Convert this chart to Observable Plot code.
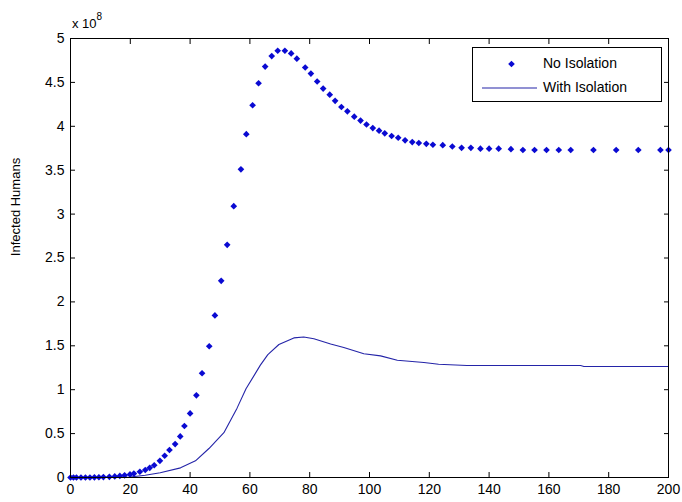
<!DOCTYPE html>
<html>
<head>
<meta charset="utf-8">
<script src="https://cdn.jsdelivr.net/npm/d3@7"></script>
<script src="https://cdn.jsdelivr.net/npm/@observablehq/plot@0.6"></script>
<style>
  html, body { margin: 0; padding: 0; background: white; }
  svg { display: block; }
</style>
</head>
<body>
<div id="chart"></div>
<script>
// Time (days) and infected humans (x 10^8) — No Isolation (diamond markers)
const noIsoT = [0,1,2,3.5,5,6.5,8,9.5,11,13,
  14.8,16.5,18.1,19.9,21.2,23.2,25,26.5,28,29.9,
  31.5,33.1,35,36.7,38.1,40,42.1,44,46.4,48.3,
  50.4,52.4,54.6,57,58.8,60.9,62.9,65.1,67.3,69.3,
  71.7,73.8,75.7,78.5,80.4,82.5,84.5,86.7,88.5,90.6,
  92.6,94.9,97,99,101.1,103.2,105.1,107.4,109.6,111.9,
  114.3,116.5,119,121.2,124.5,127.7,130.8,133.9,137.1,140,
  143.2,147.3,151.3,155.2,159.2,163.3,167.3,174.9,182.5,189.9,
  197.3,200];
const noIsoV = [0,0,0,0,0,0,0.002,0.003,0.005,0.008,
  0.012,0.018,0.025,0.035,0.045,0.065,0.085,0.11,0.14,0.19,
  0.248,0.313,0.381,0.468,0.587,0.73,0.936,1.187,1.495,1.846,
  2.24,2.65,3.09,3.51,3.91,4.24,4.49,4.68,4.80,4.86,
  4.86,4.83,4.77,4.67,4.60,4.51,4.43,4.36,4.29,4.22,
  4.17,4.11,4.065,4.02,3.98,3.95,3.92,3.89,3.87,3.84,
  3.82,3.81,3.80,3.79,3.785,3.77,3.755,3.755,3.745,3.745,
  3.745,3.74,3.73,3.73,3.73,3.73,3.73,3.73,3.73,3.73,
  3.73,3.73];

// With Isolation (solid line)
const isoT = [0,10,20,25,30,36.8,41.8,46.3,51.3,55.7,58.7,63.5,66,69.7,74.7,78,81.4,87,91.4,98.1,103.7,109.3,118.2,123.1,132.6,170.6,171.7,200];
const isoV = [0,0,0.005,0.025,0.055,0.11,0.19,0.33,0.51,0.79,1.01,1.28,1.40,1.515,1.59,1.60,1.58,1.52,1.48,1.41,1.385,1.335,1.31,1.29,1.275,1.275,1.264,1.264];

const xTicks = [0,20,40,60,80,100,120,140,160,180,200];
const yTicks = [0,0.5,1,1.5,2,2.5,3,3.5,4,4.5,5];
const seriesNames = ["No Isolation", "With Isolation"];
const yLabel = "Infected Humans";

const noIso = noIsoT.map((t, i) => ({t, v: noIsoV[i]}));
const iso = isoT.map((t, i) => ({t, v: isoV[i]}));

const dotColor = "#0a0ad2";
const lineColor = "#2424a8";
const fmt = d => String(d);

const plot = Plot.plot({
  width: 682,
  height: 502,
  marginLeft: 70,
  marginRight: 14,
  marginTop: 38,
  marginBottom: 25,
  style: {fontFamily: "'Liberation Sans', Arial, sans-serif", fontSize: "14px", background: "white", color: "black", overflow: "visible"},
  x: {domain: [0, 200], label: null},
  y: {domain: [0, 5], label: null},
  marks: [
    Plot.axisX(xTicks, {anchor: "bottom", tickSize: 0, tickPadding: 7, tickFormat: fmt, label: null}),
    Plot.axisY(yTicks, {anchor: "left", tickSize: 0, tickPadding: 6, tickFormat: fmt, label: null}),
    Plot.axisX(xTicks, {anchor: "bottom", tickSize: -5, tickFormat: () => "", label: null}),
    Plot.axisX(xTicks, {anchor: "top", tickSize: -5, tickFormat: () => "", label: null}),
    Plot.axisY(yTicks, {anchor: "left", tickSize: -5, tickFormat: () => "", label: null}),
    Plot.axisY(yTicks, {anchor: "right", tickSize: -5, tickFormat: () => "", label: null}),
    Plot.line(iso, {x: "t", y: "v", stroke: lineColor, strokeWidth: 1.1}),
    Plot.dot(noIso, {x: "t", y: "v", symbol: "diamond2", r: 3, fill: dotColor, stroke: "none"}),
    Plot.frame({stroke: "black", strokeWidth: 1})
  ]
});

document.getElementById("chart").appendChild(plot);

const svg = d3.select(plot);
const font = "'Liberation Sans', Arial, sans-serif";

// y-axis title
svg.append("text")
  .attr("transform", "translate(17,207) rotate(-90)")
  .attr("text-anchor", "middle")
  .attr("dominant-baseline", "middle")
  .attr("font-family", font)
  .attr("font-size", 13)
  .attr("fill", "black")
  .text(yLabel);

// exponent label "x 10^8"
const ex = svg.append("text")
  .attr("x", 72).attr("y", 28)
  .attr("text-anchor", "start")
  .attr("font-family", font)
  .attr("font-size", 13)
  .attr("fill", "black");
ex.append("tspan").text("x 10");
ex.append("tspan").attr("dy", -8).attr("font-size", 10).text("8");

// legend
const lg = svg.append("g").attr("text-anchor", "start");
lg.append("rect")
  .attr("x", 472.5).attr("y", 47.5).attr("width", 189).attr("height", 54)
  .attr("fill", "white").attr("stroke", "black").attr("stroke-width", 1);
lg.append("path")
  .attr("d", d3.symbol(d3.symbolDiamond2, Math.PI * 9)())
  .attr("transform", "translate(511.5,64)")
  .attr("fill", dotColor);
lg.append("line")
  .attr("x1", 482).attr("x2", 537).attr("y1", 88).attr("y2", 88)
  .attr("stroke", lineColor).attr("stroke-width", 1.1);
seriesNames.forEach((name, i) => {
  lg.append("text")
    .attr("x", 543).attr("y", 64 + i * 24)
    .attr("text-anchor", "start")
    .attr("dominant-baseline", "middle")
    .attr("font-family", font)
    .attr("font-size", 14)
    .attr("fill", "black")
    .text(name);
});
</script>
</body>
</html>
